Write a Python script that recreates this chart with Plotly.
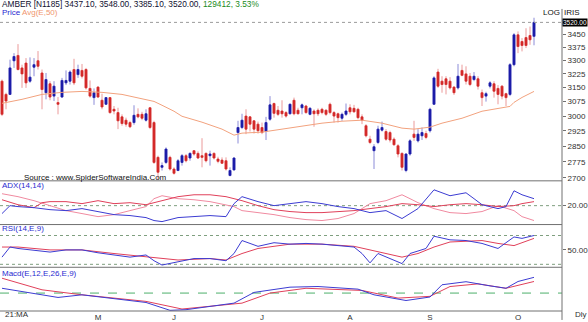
import math
import plotly.graph_objects as go

# ---- daily OHLC (bar index 0 .. 133) ----
open_ = [3184, 3113, 3113, 3297, 3327, 3257, 3284, 3184, 3261, 3297,
         3229, 3122, 3170, 3104, 3070, 3099, 3175, 3184, 3248, 3220,
         3243, 3248, 3145, 3096, 3152, 3082, 3061, 3096, 3035, 3018,
         2996, 2979, 2967, 2967, 3009, 3009, 2979, 3043, 2967, 2796,
         2749, 2772, 2796, 2741, 2734, 2772, 2804, 2793, 2828, 2815,
         2804, 2815, 2804, 2815, 2788, 2783, 2780, 2711, 2737, 2917,
         2942, 3000, 2996, 2976, 2959, 2942, 2922, 2984, 3065, 3030,
         3026, 3018, 3012, 3082, 3030, 3043, 3052, 3009, 3026, 3030,
         3035, 3030, 3061, 3018, 3012, 2989, 3009, 3043, 3040, 3035,
         2996, 2951, 2884, 2828, 2868, 2929, 2922, 2917, 2884, 2852,
         2815, 2734, 2812, 2909, 2876, 2901, 2912, 2926, 3061, 3234,
         3184, 3197, 3184, 3152, 3148, 3243, 3224, 3211, 3193, 3197,
         3122, 3104, 3157, 3170, 3145, 3157, 3117, 3113, 3275, 3446,
         3407, 3430, 3442, 3437.10]
high = [3193, 3122, 3303, 3340, 3392, 3275, 3312, 3316, 3312, 3352,
        3248, 3229, 3184, 3184, 3099, 3202, 3243, 3243, 3308, 3275,
        3279, 3257, 3188, 3145, 3157, 3117, 3099, 3099, 3052, 3043,
        3009, 2992, 2976, 3056, 3040, 3022, 3035, 3047, 2976, 2804,
        2772, 2844, 2804, 2749, 2788, 2812, 2812, 2820, 2831, 2825,
        2889, 2820, 2828, 2820, 2799, 2796, 2796, 2749, 2796, 2976,
        3012, 3035, 3000, 2979, 2972, 2967, 2996, 3104, 3070, 3052,
        3082, 3026, 3065, 3096, 3043, 3065, 3058, 3047, 3035, 3040,
        3043, 3035, 3070, 3026, 3018, 3018, 3065, 3061, 3058, 3043,
        3009, 2959, 2901, 2860, 2951, 2972, 2934, 2926, 2893, 2860,
        2820, 2815, 2884, 2976, 2934, 2942, 2926, 3043, 3211, 3252,
        3211, 3211, 3206, 3157, 3279, 3275, 3266, 3229, 3234, 3211,
        3139, 3127, 3184, 3184, 3163, 3163, 3122, 3284, 3456, 3466,
        3427, 3485, 3495, 3548.00]
low = [3000, 3035, 3110, 3257, 3243, 3148, 3148, 3175, 3211, 3248,
       3035, 3087, 3082, 3078, 3009, 3096, 3163, 3166, 3163, 3202,
       3199, 3139, 3096, 3058, 3096, 3035, 3058, 3012, 3009, 2934,
       2951, 2946, 2939, 2956, 2989, 2979, 2972, 2934, 2765, 2691,
       2734, 2765, 2734, 2715, 2731, 2757, 2772, 2780, 2804, 2788,
       2749, 2772, 2757, 2786, 2768, 2765, 2734, 2707, 2734, 2863,
       2934, 2909, 2922, 2912, 2912, 2909, 2880, 2976, 2992, 3000,
       2992, 2992, 3009, 3004, 3009, 3009, 3012, 3004, 2946, 3000,
       3009, 3000, 3009, 2967, 2967, 2976, 3000, 3009, 3018, 2984,
       2959, 2893, 2860, 2741, 2860, 2922, 2876, 2868, 2852, 2796,
       2734, 2726, 2804, 2876, 2868, 2880, 2884, 2917, 3058, 3148,
       3122, 3113, 3139, 3110, 3139, 3211, 3166, 3157, 3184, 3139,
       3052, 3075, 3145, 3096, 3061, 3087, 3052, 3104, 3266, 3340,
       3350, 3369, 3388, 3385.10]
close = [3009, 3078, 3257, 3321, 3248, 3224, 3175, 3206, 3275, 3266,
         3139, 3193, 3099, 3157, 3061, 3188, 3188, 3234, 3175, 3248,
         3211, 3148, 3104, 3122, 3099, 3047, 3096, 3018, 3026, 2976,
         2962, 2959, 2946, 3004, 2996, 2989, 3012, 2942, 2772, 2726,
         2757, 2836, 2741, 2721, 2780, 2804, 2780, 2815, 2812, 2793,
         2796, 2780, 2812, 2793, 2777, 2768, 2741, 2734, 2793, 2942,
         2979, 2934, 2959, 2934, 2926, 2917, 2967, 3058, 3014, 3009,
         3012, 3000, 3061, 3012, 3012, 3058, 3018, 3040, 3012, 3012,
         3018, 3009, 3018, 3000, 2992, 3009, 3026, 3022, 3022, 2992,
         2979, 2901, 2868, 2847, 2934, 2942, 2884, 2880, 2857, 2812,
         2749, 2812, 2876, 2893, 2909, 2917, 2893, 3035, 3202, 3157,
         3166, 3166, 3148, 3122, 3211, 3216, 3184, 3166, 3211, 3157,
         3096, 3117, 3175, 3130, 3113, 3104, 3096, 3275, 3446, 3378,
         3384, 3384, 3417, 3520.00]
bars = list(range(len(close)))
volume_last = 129412
pct_change_last = 3.53

# ---- Avg(E,50) ----
ema_idx = [0, 5, 10, 15, 20, 25, 30, 35, 38, 40, 43, 45, 50, 55, 58, 59, 60, 65,
           70, 75, 80, 85, 90, 95, 100, 103, 107, 110, 115, 120, 125, 127, 128,
           130, 133]
ema50 = [3066, 3087, 3113, 3124, 3129, 3124, 3113, 3092, 3076, 3056, 3025, 2999,
         2969, 2934, 2904, 2909, 2914, 2919, 2934, 2949, 2964, 2974, 2979, 2964,
         2939, 2934, 2944, 2964, 2989, 3025, 3045, 3050, 3071, 3097, 3129]

# ---- ADX(14,14) ----
pdi_idx = [0, 2, 4, 8, 12, 16, 20, 24, 28, 32, 36, 38, 40, 44, 48, 52, 56, 58, 60,
           64, 68, 72, 76, 80, 84, 88, 92, 96, 100, 104, 106, 108, 112, 116, 118,
           120, 124, 126, 128, 130, 133]
pdi = [13.3, 20.0, 19.2, 18.3, 16.6, 15.8, 17.5, 15.0, 12.4, 11.6, 9.9, 7.4, 6.5,
       9.9, 10.7, 11.6, 10.7, 21.7, 27.6, 23.4, 20.0, 21.7, 23.4, 21.7, 19.2, 17.5,
       14.1, 15.8, 9.1, 17.5, 25.9, 33.4, 28.4, 30.9, 25.9, 20.8, 17.5, 19.2, 32.6,
       29.2, 25.9]
mdi_idx = [0, 4, 8, 12, 16, 20, 24, 28, 32, 36, 38, 40, 44, 48, 52, 56, 58, 60, 64,
           68, 72, 76, 80, 84, 88, 92, 96, 100, 102, 104, 108, 112, 116, 120, 124,
           128, 130, 133]
mdi = [30.1, 27.6, 24.2, 20.0, 15.8, 13.3, 10.7, 12.4, 15.8, 19.2, 25.9, 28.4, 25.9,
       25.0, 23.4, 20.8, 19.2, 15.8, 14.1, 12.4, 9.9, 8.2, 7.4, 9.1, 13.3, 21.7, 24.2,
       29.2, 25.9, 22.5, 17.5, 14.1, 13.3, 15.0, 20.0, 15.8, 10.7, 7.4]
adx_idx = [0, 4, 8, 10, 12, 16, 20, 24, 28, 32, 36, 40, 44, 48, 52, 56, 60, 64, 68,
           72, 76, 80, 84, 88, 92, 96, 100, 104, 108, 112, 116, 120, 124, 128, 130, 133]
adx = [25.0, 20.8, 18.3, 22.5, 23.4, 23.4, 21.7, 24.2, 21.7, 22.5, 20.8, 24.2, 27.6,
       29.2, 29.2, 27.6, 24.2, 20.0, 16.6, 15.0, 14.1, 14.1, 15.0, 15.8, 17.5, 19.2,
       21.7, 20.8, 19.2, 20.8, 21.7, 20.8, 19.2, 20.0, 21.7, 23.4]
adx_level = 20

# ---- RSI(14,E,9) ----
rsi_idx = [0, 2, 4, 8, 12, 16, 20, 24, 28, 32, 36, 38, 40, 44, 48, 52, 56, 58, 60,
           64, 68, 72, 76, 80, 84, 88, 90, 92, 94, 96, 100, 102, 104, 106, 108, 112,
           116, 120, 124, 128, 130, 133]
rsi = [40, 54, 52, 50, 47, 50, 50, 46, 43, 40, 43, 35, 29, 33, 38, 38, 35, 45, 63,
       55, 60, 58, 59, 58, 56, 54, 45, 32, 45, 40, 31, 45, 48, 52, 69, 64, 63, 59,
       52, 68, 66, 70]
rsi_sig_idx = [0, 4, 12, 20, 28, 36, 44, 52, 56, 60, 64, 72, 80, 88, 92, 96, 100,
               104, 108, 112, 120, 124, 128, 133]
rsi_sig = [54, 54, 50, 50, 45, 41, 36, 38, 36, 45, 52, 58, 58, 55, 50, 45, 40, 45,
           54, 61, 63, 59, 56, 66]
rsi_levels = [70, 30]

# ---- Macd(E,12,E,26,E,9) ----
macd_idx = [0, 14, 20, 30, 36, 42, 46, 58, 63, 72, 79, 89, 93, 101, 107, 110, 116,
            122, 126, 129, 133]
macd = [22, -20, -8, -30, -43, -79, -76, -46, 3, 27, 30, 18, -8, -34, -18, 38, 52,
        33, 22, 53, 72]
macd_sig_idx = [0, 10, 20, 36, 45, 52, 60, 67, 76, 90, 99, 107, 112, 119, 126, 133]
macd_sig = [68, 15, -8, -38, -73, -61, -46, 0, 22, 12, -23, -15, 30, 42, 22, 53]

# ---- axis labels ----
price_ticks = [2700, 2775, 2850, 2925, 3000, 3075, 3150, 3225, 3300, 3375, 3450]
month_idx = [24, 43, 65, 87, 107, 129]
month_lbl = ["M", "J", "J", "A", "S", "O"]

UP, DN = "#1c1ca8", "#d42a2a"
UP_WICK, DN_WICK = "#8c8cd8", "#eb9a9a"
BLUE, RED, PINK = "#3c3cd2", "#e0405a", "#f08aa0"
FONT = "Liberation Sans"

W, H = 588, 322
MB = 9
PH = H - MB                     # plot-area height in px
SEP = [182, 226, 269]           # panel separators (px from top)


def dom(top_px, bot_px):
    return [(PH - bot_px) / PH, (PH - top_px) / PH]


fig = go.Figure()

# wicks (full range), then bodies on top
fig.add_trace(go.Candlestick(
    x=bars, open=open_, high=high, low=low, close=close,
    increasing=dict(line=dict(color=UP_WICK, width=1), fillcolor=UP_WICK),
    decreasing=dict(line=dict(color=DN_WICK, width=1), fillcolor=DN_WICK),
    whiskerwidth=0, hoverinfo="skip", showlegend=False, xaxis="x", yaxis="y"))
body_hi = [max(o, c) for o, c in zip(open_, close)]
body_lo = [min(o, c) for o, c in zip(open_, close)]
fig.add_trace(go.Candlestick(
    x=bars, open=open_, high=body_hi, low=body_lo, close=close,
    increasing=dict(line=dict(color=UP, width=0.6), fillcolor=UP),
    decreasing=dict(line=dict(color=DN, width=0.6), fillcolor=DN),
    whiskerwidth=0, hoverinfo="skip", showlegend=False, xaxis="x", yaxis="y"))

fig.add_trace(go.Scatter(x=ema_idx, y=ema50, mode="lines",
                         line=dict(color="#f2a27e", width=1), xaxis="x", yaxis="y"))
# last close reference line
fig.add_trace(go.Scatter(x=[-0.5, 140], y=[close[-1], close[-1]], mode="lines",
                         line=dict(color="#9a9a9a", width=1, dash="dot"),
                         xaxis="x", yaxis="y"))

# ADX panel
fig.add_trace(go.Scatter(x=[-0.5, 140], y=[adx_level] * 2, mode="lines",
                         line=dict(color="#7f9f7f", width=1, dash="dot"),
                         xaxis="x", yaxis="y2"))
fig.add_trace(go.Scatter(x=mdi_idx, y=mdi, mode="lines",
                         line=dict(color=PINK, width=1), xaxis="x", yaxis="y2"))
fig.add_trace(go.Scatter(x=adx_idx, y=adx, mode="lines",
                         line=dict(color=RED, width=1), xaxis="x", yaxis="y2"))
fig.add_trace(go.Scatter(x=pdi_idx, y=pdi, mode="lines",
                         line=dict(color=BLUE, width=1), xaxis="x", yaxis="y2"))

# RSI panel
for lv in rsi_levels:
    fig.add_trace(go.Scatter(x=[-0.5, 140], y=[lv, lv], mode="lines",
                             line=dict(color="#7f9f7f", width=1, dash="dot"),
                             xaxis="x", yaxis="y3"))
fig.add_trace(go.Scatter(x=rsi_sig_idx, y=rsi_sig, mode="lines",
                         line=dict(color=RED, width=1), xaxis="x", yaxis="y3"))
fig.add_trace(go.Scatter(x=rsi_idx, y=rsi, mode="lines",
                         line=dict(color=BLUE, width=1), xaxis="x", yaxis="y3"))

# MACD panel
fig.add_trace(go.Scatter(x=[-0.5, 140], y=[0, 0], mode="lines",
                         line=dict(color="#4caf6a", width=1, dash="dash"),
                         xaxis="x", yaxis="y4"))
fig.add_trace(go.Scatter(x=macd_sig_idx, y=macd_sig, mode="lines",
                         line=dict(color=RED, width=1), xaxis="x", yaxis="y4"))
fig.add_trace(go.Scatter(x=macd_idx, y=macd, mode="lines",
                         line=dict(color=BLUE, width=1), xaxis="x", yaxis="y4"))

axis_common = dict(showgrid=False, zeroline=False, showline=False, anchor="x",
                   side="right", ticks="outside", ticklen=3, tickcolor="#707070",
                   tickfont=dict(family=FONT, size=8, color="#303030"),
                   fixedrange=True)

fig.update_layout(
    width=W, height=H, margin=dict(l=0, r=W - 562, t=0, b=MB),
    paper_bgcolor="white", plot_bgcolor="white", showlegend=False,
    xaxis=dict(domain=[0, 1], range=[-0.5, 140], anchor="y4", showgrid=False,
               zeroline=False, showline=False, ticks="", rangeslider=dict(visible=False),
               tickvals=month_idx, ticktext=month_lbl,
               tickfont=dict(family=FONT, size=8, color="#303030")),
    yaxis=dict(domain=dom(0, SEP[0]), type="log",
               range=[math.log10(2686.3), math.log10(3657.0)],
               tickvals=price_ticks, ticktext=[str(t) for t in price_ticks],
               **axis_common),
    yaxis2=dict(domain=dom(SEP[0], SEP[1]), range=[4, 41], tickvals=[adx_level],
                ticktext=[f"{adx_level:.2f}"], **axis_common),
    yaxis3=dict(domain=dom(SEP[1], SEP[2]), range=[25.9, 85.2], tickvals=[50],
                ticktext=["50.00"], **axis_common),
    yaxis4=dict(domain=dom(SEP[2], PH), range=[-82, 118], tickvals=[],
                **axis_common),
)

shapes = []
for s in SEP + [PH]:
    yp = (PH - s) / PH
    shapes.append(dict(type="line", xref="paper", yref="paper", x0=0, x1=1,
                       y0=yp, y1=yp, line=dict(color="#707070", width=1)))
shapes.append(dict(type="line", xref="paper", yref="paper", x0=1, x1=1,
                   y0=-MB / PH, y1=(PH - 9) / PH, line=dict(color="#707070", width=1)))
fig.update_layout(shapes=shapes)


def px_y(y):
    return (PH - y) / PH


def px_x(x):
    return x / 562


ann = []


def label(text, x, y, color="#101010", anchor="left", size=8, **kw):
    ann.append(dict(text=text, xref="paper", yref="paper", x=px_x(x), y=px_y(y),
                    xanchor=anchor, yanchor="middle", showarrow=False,
                    font=dict(family=FONT, size=size, color=color), **kw))


head = (f"AMBER [N1185] {open_[-1]:.2f}, {high[-1]:.2f}, {low[-1]:.2f}, "
        f"{close[-1]:.2f}, <span style='color:#1a8a1a'>{volume_last}, "
        f"{pct_change_last:.2f}%</span>")
label(head, 0, 4, color="#101030", size=8.3)
label("Price <span style='color:#f0966e'>Avg(E,50)</span>", 0, 13, color="#2a2ad0")
label("LOG", 551, 13, anchor="center")
label("IRIS", 572, 13, anchor="center")
label("Source : www.SpiderSoftwareIndia.Com", 22, 179)
label("ADX(14,14)", 0, 187, color="#2a2ad0")
label("RSI(14,E,9)", 0, 230, color="#2a2ad0")
label("Macd(E,12,E,26,E,9)", 0, 275, color="#2a2ad0")
label("21:MA", 3, 317, color="#303030")
label("Dly", 581, 317, anchor="center", color="#303030")

# last price tag on the price scale
ann.append(dict(text=f"{close[-1]:.2f}", xref="paper", yref="y", x=1,
                y=math.log10(close[-1]), xanchor="left", yanchor="middle",
                xshift=0, showarrow=False, bgcolor="#000000", borderpad=0,
                font=dict(family=FONT, size=6.5, color="white")))
fig.update_layout(annotations=ann)

fig.write_html("out.html")
